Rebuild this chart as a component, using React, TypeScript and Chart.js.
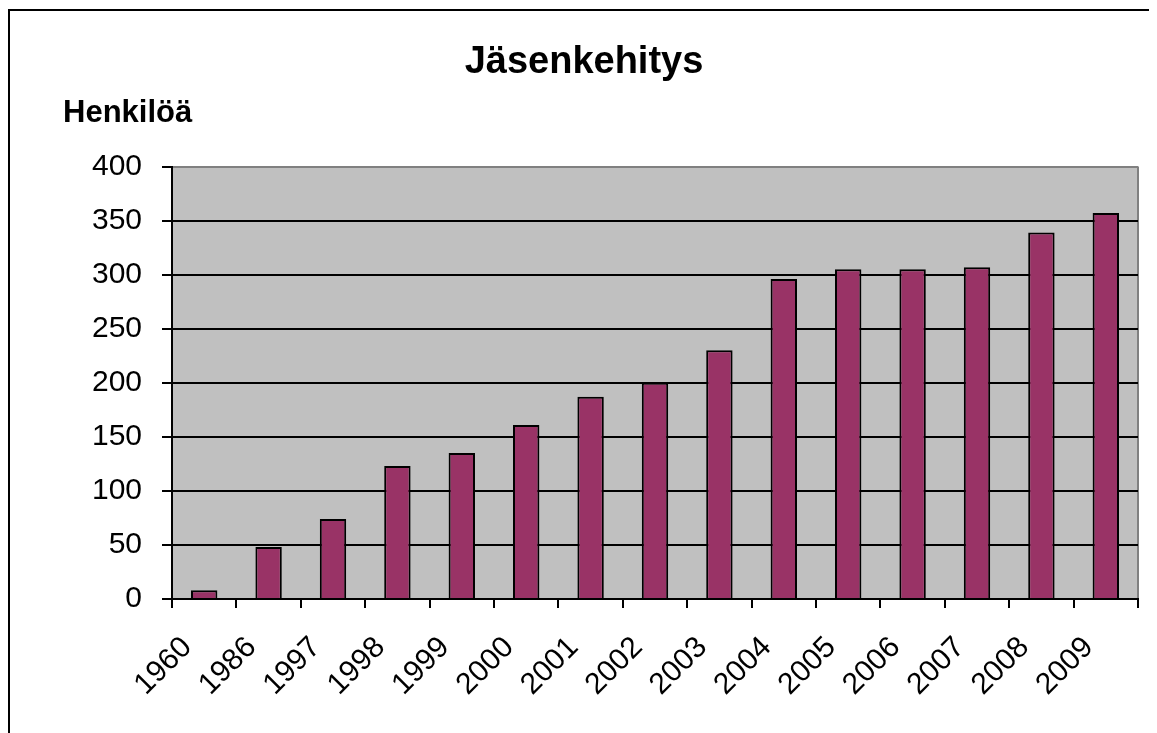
import React, { useEffect, useRef } from "react";
import { Chart, registerables } from "chart.js";

Chart.register(...registerables);

const categories = ["1960", "1986", "1997", "1998", "1999", "2000", "2001", "2002", "2003", "2004", "2005", "2006", "2007", "2008", "2009"];
const members = [8, 48, 74, 123, 135, 161, 187, 200, 230, 296, 305, 305, 307, 339, 357];
const yMin = 0;
const yMax = 400;
const yStep = 50;
const chartTitle = "Jäsenkehitys";
const yAxisTitle = "Henkilöä";

const FONT = "'Liberation Sans', Arial, Helvetica, sans-serif";

export default function App() {
  const canvasRef = useRef<HTMLCanvasElement | null>(null);

  useEffect(() => {
    const canvas = canvasRef.current;
    if (!canvas) return;

    const bgPlugin = {
      id: "plotBg",
      beforeDraw(chart: any) {
        const { ctx, chartArea } = chart;
        ctx.save();
        ctx.fillStyle = "#C0C0C0";
        ctx.fillRect(chartArea.left, chartArea.top, chartArea.right - chartArea.left, chartArea.bottom - chartArea.top);
        ctx.strokeStyle = "#808080";
        ctx.lineWidth = 2;
        ctx.beginPath();
        ctx.moveTo(chartArea.right, chartArea.top);
        ctx.lineTo(chartArea.right, chartArea.bottom);
        ctx.stroke();
        ctx.restore();
      },
      afterDraw(chart: any) {
        const { ctx } = chart;
        ctx.save();
        ctx.fillStyle = "#000000";
        ctx.font = `bold 31px ${FONT}`;
        ctx.textAlign = "left";
        ctx.textBaseline = "alphabetic";
        ctx.fillText(yAxisTitle, 55, 114);
        ctx.restore();
      },
    };

    const chart = new Chart(canvas, {
      type: "bar",
      data: {
        labels: categories,
        datasets: [
          {
            label: yAxisTitle,
            data: members,
            backgroundColor: "#993366",
            borderColor: "#000000",
            borderWidth: 2,
            barPercentage: 0.41,
            categoryPercentage: 1,
          },
        ],
      },
      options: {
        responsive: false,
        animation: false,
        devicePixelRatio: 1,
        layout: { padding: { left: 22, right: 19, top: 0, bottom: 0 } },
        plugins: {
          legend: { display: false },
          tooltip: { enabled: false },
          title: {
            display: true,
            text: chartTitle,
            color: "#000000",
            font: { family: FONT, size: 38, weight: "bold" },
            padding: { top: 32, bottom: 81 },
          },
        },
        scales: {
          x: {
            offset: true,
            grid: {
              display: true,
              drawOnChartArea: false,
              drawTicks: true,
              tickLength: 9,
              tickColor: "#000000",
              lineWidth: 2,
              offset: true,
            },
            border: { display: true, color: "#000000", width: 2 },
            ticks: {
              autoSkip: false,
              maxRotation: 45,
              minRotation: 45,
              padding: 22,
              labelOffset: -17,
              color: "#000000",
              font: { family: FONT, size: 30 },
            },
            afterFit(scale: any) {
              scale.height = 725 - 591;
            },
          },
          y: {
            min: yMin,
            max: yMax,
            grid: {
              color: (ctx: any) => (ctx.tick && ctx.tick.value === yMax ? "#808080" : "#000000"),
              lineWidth: 2,
              drawTicks: true,
              tickLength: 10,
              tickColor: "#000000",
            },
            border: { display: true, color: "#000000", width: 2 },
            ticks: {
              stepSize: yStep,
              padding: 20,
              color: "#000000",
              font: { family: FONT, size: 30 },
            },
            afterFit(scale: any) {
              scale.width = 142;
            },
          },
        },
      },
      plugins: [bgPlugin],
    });

    return () => {
      chart.destroy();
    };
  }, []);

  return (
    <div style={{ position: "relative", width: 1149, height: 725 }}>
      <div
        style={{
          position: "absolute",
          left: 0,
          top: 1,
          width: 1149,
          height: 724,
          borderLeft: "2px solid #000",
          borderTop: "2px solid #000",
          boxSizing: "border-box",
        }}
      />
      <canvas
        ref={canvasRef}
        width={1149}
        height={725}
        style={{ position: "absolute", left: 0, top: 0, width: 1149, height: 725 }}
      />
    </div>
  );
}
